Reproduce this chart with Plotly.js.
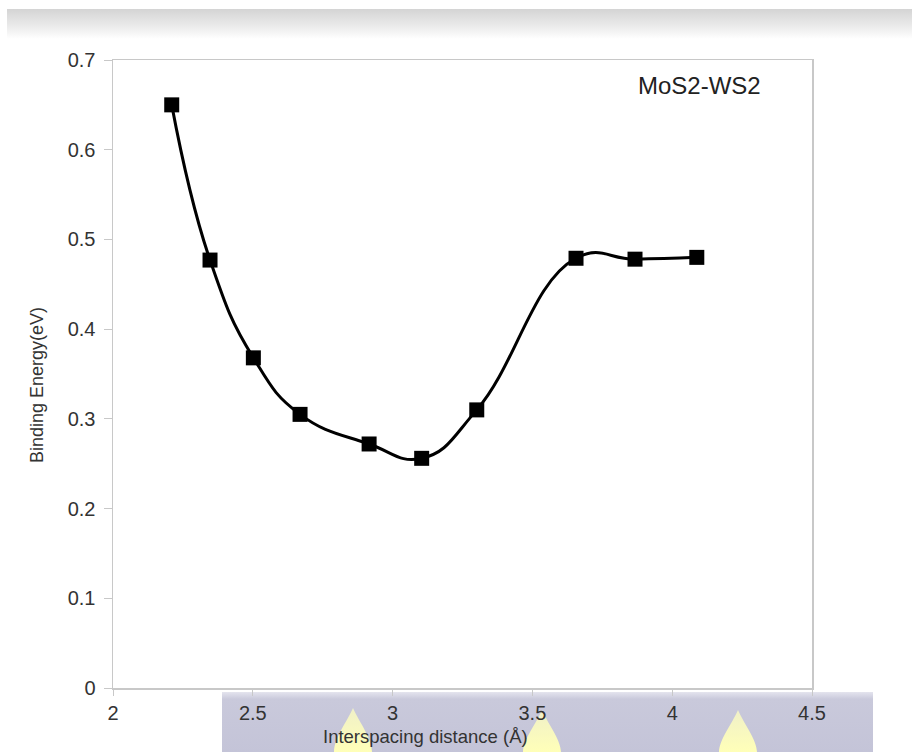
<!DOCTYPE html>
<html>
<head>
<meta charset="utf-8">
<script src="https://cdn.plot.ly/plotly-3.0.1.min.js"></script>
<style>
  html, body { margin: 0; padding: 0; background: #ffffff; }
  #wrap { position: relative; width: 912px; height: 752px; overflow: hidden; }
  #bg { position: absolute; left: 0; top: 0; width: 912px; height: 752px; }
  #chart { position: absolute; left: 0; top: 0; width: 912px; height: 752px; }
</style>
</head>
<body>
<div id="wrap">
  <svg id="bg" width="912" height="752" xmlns="http://www.w3.org/2000/svg">
    <defs>
      <linearGradient id="topg" x1="0" y1="0" x2="0" y2="1">
        <stop offset="0" stop-color="#d4d4d4"/>
        <stop offset="0.6" stop-color="#ececec"/>
        <stop offset="1" stop-color="#ffffff"/>
      </linearGradient>
      <linearGradient id="band" x1="0" y1="0" x2="0" y2="1">
        <stop offset="0" stop-color="#e4e4ee"/>
        <stop offset="0.12" stop-color="#c9c9db"/>
        <stop offset="1" stop-color="#c4c4d8"/>
      </linearGradient>
      <linearGradient id="drop" x1="0" y1="0" x2="0" y2="1">
        <stop offset="0" stop-color="#f0f0c8"/>
        <stop offset="1" stop-color="#ffffb8"/>
      </linearGradient>
    </defs>
    <rect x="7" y="9" width="905" height="30" fill="url(#topg)"/>
    <rect x="222" y="692" width="651" height="60" fill="url(#band)"/>
    <path d="M353,708 C358,720 372,738 372,752 L334,752 C334,738 348,720 353,708 Z" fill="url(#drop)"/>
    <path d="M542,710 C547,722 561,740 561,752 L523,752 C523,740 537,722 542,710 Z" fill="url(#drop)"/>
    <path d="M738,710 C743,722 757,740 757,752 L719,752 C719,740 733,722 738,710 Z" fill="url(#drop)"/>
  </svg>
  <div id="chart"></div>
</div>
<script>
const distance = [2.21, 2.347, 2.502, 2.669, 2.916, 3.104, 3.301, 3.656, 3.867, 4.088];
const bindingEnergy = [0.650, 0.477, 0.368, 0.305, 0.272, 0.256, 0.310, 0.479, 0.478, 0.480];
const seriesLabel = "MoS2-WS2";
const xTitle = "Interspacing distance (Å)";
const yTitle = "Binding Energy(eV)";

const axisCol = "#c8c8c8";
const textCol = "#333333";

const trace = {
  x: distance,
  y: bindingEnergy,
  type: "scatter",
  mode: "lines+markers",
  line: { color: "#000000", width: 3, shape: "spline", smoothing: 1.3 },
  marker: { symbol: "square", size: 15, color: "#000000" },
  hoverinfo: "x+y",
  showlegend: false
};

const layout = {
  width: 912,
  height: 752,
  margin: { l: 113, r: 100, t: 60, b: 64, pad: 0 },
  paper_bgcolor: "rgba(0,0,0,0)",
  plot_bgcolor: "rgba(0,0,0,0)",
  font: { family: "Liberation Sans, Arial, sans-serif", color: textCol, size: 20 },
  xaxis: {
    range: [2, 4.5],
    dtick: 0.5,
    tick0: 2,
    showgrid: false,
    zeroline: false,
    showline: true,
    linecolor: axisCol,
    linewidth: 1.5,
    mirror: true,
    ticks: "outside",
    ticklen: 6,
    tickcolor: axisCol,
    tickfont: { size: 20, color: textCol }
  },
  yaxis: {
    range: [0, 0.7],
    dtick: 0.1,
    tick0: 0,
    showgrid: false,
    zeroline: false,
    showline: true,
    linecolor: axisCol,
    linewidth: 1.5,
    mirror: true,
    ticks: "outside",
    ticklen: 8,
    tickcolor: axisCol,
    ticklabelstandoff: 4,
    tickfont: { size: 20, color: textCol }
  },
  annotations: [
    {
      x: 4.096, y: 0.672, xref: "x", yref: "y",
      text: seriesLabel, showarrow: false,
      font: { family: "Liberation Sans, Arial, sans-serif", size: 24, color: "#222222" },
      xanchor: "center", yanchor: "middle"
    },
    {
      x: 0.4464, y: -0.078, xref: "paper", yref: "paper",
      text: xTitle, showarrow: false,
      font: { family: "Liberation Sans, Arial, sans-serif", size: 18.5, color: textCol },
      xanchor: "center", yanchor: "middle"
    },
    {
      x: -0.1087, y: 0.4825, xref: "paper", yref: "paper",
      text: yTitle, showarrow: false, textangle: -90,
      font: { family: "Liberation Sans, Arial, sans-serif", size: 18, color: textCol },
      xanchor: "center", yanchor: "middle"
    }
  ]
};

Plotly.newPlot("chart", [trace], layout, { displayModeBar: false, staticPlot: true });
</script>
</body>
</html>
